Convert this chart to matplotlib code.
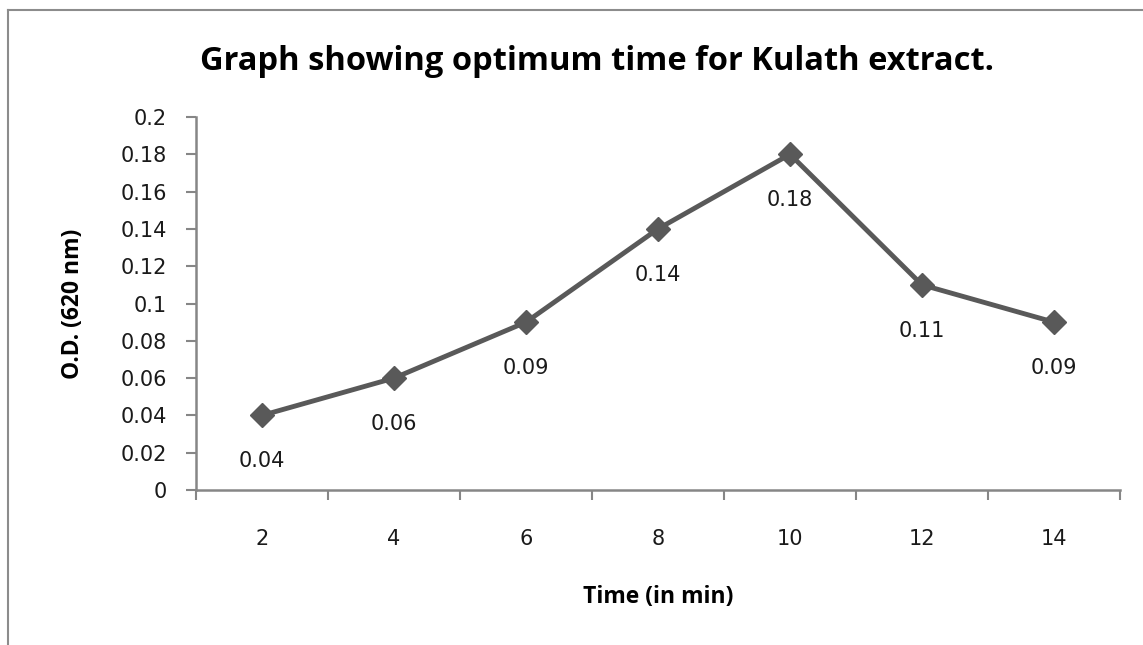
import matplotlib.pyplot as plt
import numpy as np

# data
times = ['2', '4', '6', '8', '10', '12', '14']
od_values = [0.04, 0.06, 0.09, 0.14, 0.18, 0.11, 0.09]
od_labels = ['0.04', '0.06', '0.09', '0.14', '0.18', '0.11', '0.09']
y_ticks = [0, 0.02, 0.04, 0.06, 0.08, 0.1, 0.12, 0.14, 0.16, 0.18, 0.2]
y_tick_labels = ['0', '0.02', '0.04', '0.06', '0.08', '0.1', '0.12', '0.14', '0.16', '0.18', '0.2']

plt.rcParams['font.family'] = ['Open Sans', 'DejaVu Sans']
num_font = 'DejaVu Sans'

W, H = 1143, 645
fig = plt.figure(figsize=(W / 100, H / 100), dpi=100)
fig.patch.set_facecolor('white')

# chart border (only left and top visible in the original)
fig.add_artist(plt.Line2D([8 / W, 8 / W], [0, 1 - 10 / H], color='#8c8c8c', lw=1.5))
fig.add_artist(plt.Line2D([8 / W, 1], [1 - 10 / H, 1 - 10 / H], color='#8c8c8c', lw=1.5))

left, right, top, bottom = 196, 1120, 117, 490
ax = fig.add_axes([left / W, 1 - bottom / H, (right - left) / W, (bottom - top) / H])

x = np.arange(len(times))
ax.plot(x, od_values, color='#595959', lw=3.5, marker='D', markersize=12,
        markerfacecolor='#595959', markeredgecolor='#595959', zorder=3)

for xi, yi, lab in zip(x, od_values, od_labels):
    ax.annotate(lab, (xi, yi), xytext=(0, -33), textcoords='offset points',
                ha='center', va='center', fontsize=15, color='#1a1a1a',
                family=num_font)

ax.set_xlim(-0.5, len(times) - 0.5)
ax.set_ylim(0, 0.2)
ax.set_yticks(y_ticks)
ax.set_yticklabels(y_tick_labels, family=num_font)
ax.set_xticks(x)
ax.set_xticklabels(times, family=num_font)
ax.set_xticks(np.arange(len(times) + 1) - 0.5, minor=True)

for s in ['top', 'right']:
    ax.spines[s].set_visible(False)
for s in ['left', 'bottom']:
    ax.spines[s].set_color('#868686')
    ax.spines[s].set_linewidth(1.8)

ax.tick_params(axis='y', direction='out', length=7, width=1.5, color='#868686',
               labelsize=15, pad=14, labelcolor='#1a1a1a')
ax.tick_params(axis='x', which='major', length=0, labelsize=15, pad=28,
               labelcolor='#1a1a1a')
ax.tick_params(axis='x', which='minor', direction='out', length=7, width=1.5,
               color='#868686')

ax.set_ylabel('O.D. (620 nm)', fontsize=16.5, fontweight='bold')
ax.yaxis.set_label_coords(-0.12, 0.5)
ax.set_xlabel('Time (in min)', fontsize=16.5, fontweight='bold')
ax.xaxis.set_label_coords(0.5, -0.255)

fig.text(597 / W, 1 - 61 / H, 'Graph showing optimum time for Kulath extract.',
         ha='center', va='center', fontsize=23.5, fontweight='bold')

fig.savefig('out.png', dpi=100, facecolor='white')
